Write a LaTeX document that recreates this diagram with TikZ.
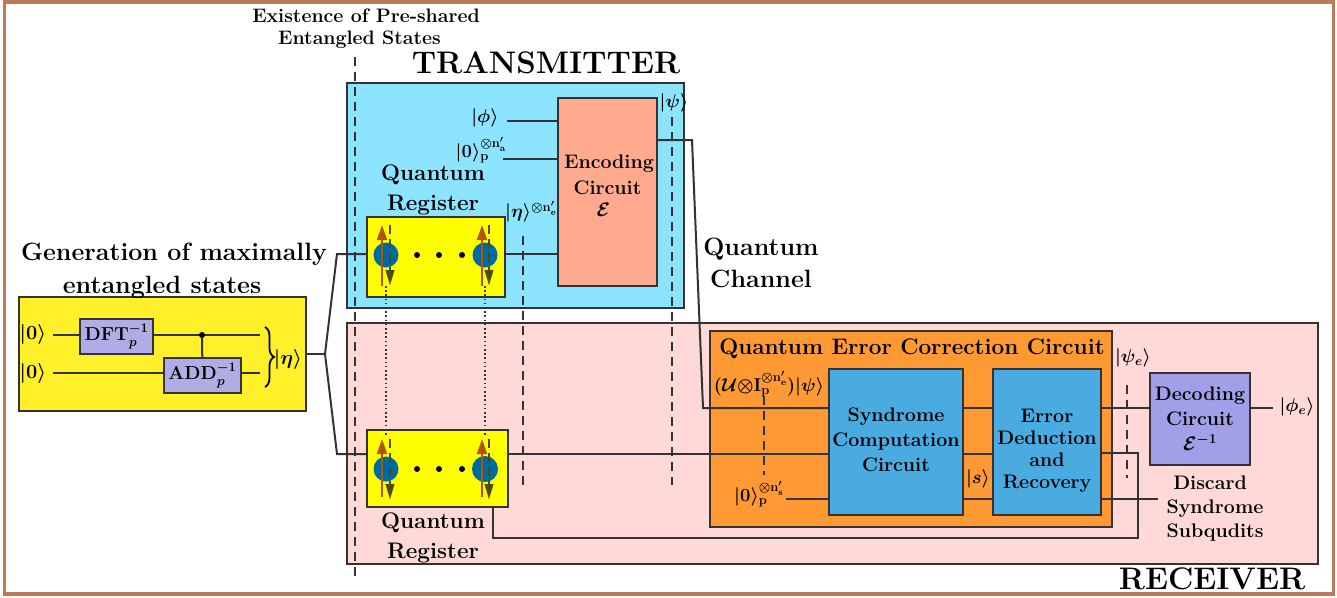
\documentclass[tikz,border=0pt]{standalone}
\usepackage{fix-cm}
\usepackage{amsmath}
\usepackage{amssymb}
\usetikzlibrary{arrows.meta, decorations.pathreplacing}
\definecolor{framebrown}{HTML}{BC7A56}
\definecolor{wirecol}{HTML}{333333}
\definecolor{txblue}{HTML}{8CE4FF}
\definecolor{rxpink}{HTML}{FFD8D8}
\definecolor{genyellow}{HTML}{FFF02A}
\definecolor{regyellow}{HTML}{FFFF00}
\definecolor{gatepurple}{HTML}{B0ADE6}
\definecolor{encsalmon}{HTML}{FFA98F}
\definecolor{qecorange}{HTML}{FF9933}
\definecolor{circblue}{HTML}{4AABE0}
\definecolor{decpurple}{HTML}{A09FE8}
\definecolor{spinblue}{HTML}{006AA0}
\definecolor{spinup}{HTML}{B35500}
\definecolor{spindown}{HTML}{4D4D10}
\tikzstyle{block} = [rectangle, inner sep=0pt, draw=wirecol, line width=2pt, align=center]
\tikzstyle{wire} = [draw=wirecol, line width=2pt]
\tikzstyle{dashline} = [draw=wirecol, line width=1.8pt, dash pattern=on 9pt off 6pt]
\tikzstyle{dotline} = [draw=wirecol, line width=1.6pt, dash pattern=on 1.6pt off 2.6pt]
\tikzstyle{bigtext} = [inner sep=0pt, align=center, font=\fontsize{31.2}{33}\selectfont\bfseries\boldmath]
\tikzstyle{midtext} = [inner sep=0pt, align=center, font=\fontsize{25}{32.5}\selectfont\bfseries\boldmath]
\tikzstyle{labeltext} = [inner sep=0pt, align=center, font=\fontsize{18.5}{30}\selectfont\bfseries\boldmath]
\tikzstyle{gatetext} = [font=\fontsize{18.8}{24}\selectfont\bfseries\boldmath]
\tikzstyle{boxtext} = [font=\fontsize{19.6}{25}\selectfont\bfseries\boldmath]
\tikzstyle{subtext} = [inner sep=0pt, align=center, font=\fontsize{22.5}{30}\selectfont\bfseries]
\tikzstyle{smalltext} = [inner sep=0pt, align=center, font=\fontsize{19.5}{22}\selectfont\bfseries]
\tikzstyle{spin} = [circle, inner sep=0pt, minimum size=25pt, fill=spinblue]
\tikzstyle{spinarrow} = [draw=spinup, line width=2pt, -{Triangle[length=15pt,width=10pt]}]
\tikzstyle{spindash} = [draw=spindown, line width=2pt, dash pattern=on 9pt off 5pt]
\tikzstyle{spinhead} = [-{Triangle[length=15pt,width=9pt]}, draw=spindown, line width=.1pt]
\tikzstyle{dotnode} = [circle, inner sep=0pt, minimum size=6pt, fill=black]
\begin{document}
\begin{tikzpicture}[x=1pt, y=-1pt]
        \useasboundingbox (0,0) rectangle (1337,597);
        \node (frame) [rectangle, draw=framebrown, line width=3.5pt, minimum width=1329pt, minimum height=592pt, inner sep=0pt] at (669,298) {};

        % receiver and transmitter
        \node (rx) [block, fill=rxpink, minimum width=971pt, minimum height=241pt] at (832.5,443.5) {};
        \node (tx) [block, fill=txblue, minimum width=337pt, minimum height=225pt] at (515.5,195.5) {};
        \node (txlabel) [bigtext] at (546,63) {TRANSMITTER};
        \node (rxlabel) [bigtext] at (1212,579) {RECEIVER};

        % generation of entangled states
        \node (gen) [block, fill=genyellow, minimum width=287pt, minimum height=114pt] at (162.5,354) {};
        \node (gentext) [midtext] at (174,271) {Generation of maximally\\entangled states\hspace*{24pt}};
        \coordinate (w1in) at (53,335);
        \coordinate (w2in) at (53,373);
        \coordinate (w1out) at (260,335);
        \coordinate (w2out) at (260,373);
        \node (zero1) [labeltext, font=\fontsize{20}{24}\selectfont\bfseries\boldmath] at (33,334) {$|\mathbf{0}\rangle$};
        \node (zero2) [labeltext, font=\fontsize{20}{24}\selectfont\bfseries\boldmath] at (33,373) {$|\mathbf{0}\rangle$};
        \draw [wire] (w1in) -- (w1out);
        \draw [wire] (w2in) -- (w2out);
        \node (dft) [block, gatetext, fill=gatepurple, minimum width=73pt, minimum height=35pt] at (116.5,336.5) {$\mathbf{DFT}_{p}^{-1}$};
        \node (add) [block, gatetext, fill=gatepurple, minimum width=77pt, minimum height=35pt] at (202.5,375.5) {$\mathbf{ADD}_{p}^{-1}$};
        \node (ctrl) [dotnode] at (202,335) {};
        \draw [wire] (ctrl) -- (add);
        \coordinate (bracetop) at (265,327);
        \coordinate (bracebot) at (265,387);
        \draw [draw=black, line width=1.8pt, decorate, decoration={brace, amplitude=9pt}] (bracetop) -- (bracebot);
        \node (eta) [labeltext, font=\fontsize{20}{24}\selectfont\bfseries\boldmath] at (288,359) {$|\eta\rangle$};
        \coordinate (split) at (325,354);
        \coordinate (bendtop) at (337,254);
        \coordinate (bendbot) at (337,454);

        % transmitter
        \node (qrtop) [block, fill=regyellow, minimum width=138pt, minimum height=80pt] at (436,257) {};
        \node (enc) [block, boxtext, fill=encsalmon, minimum width=99pt, minimum height=188pt] at (607.5,192) {\mbox{}\\[-27pt]\hspace*{3pt}Encoding\\[1pt]Circuit\hspace*{6pt}\\[-3pt]$\mathcal{E}$\hspace*{8pt}};
        \node (qrtoptext) [subtext] at (433,190) {Quantum\\Register};
        \node (phi) [labeltext] at (485,118) {$|\phi\rangle$};
        \node (zeroa) [labeltext] at (481,150) {$|\mathbf{0}\rangle_{\mathbf{p}}^{\otimes\mathbf{n}'_{\mathbf{a}}}$};
        \node (etae) [labeltext] at (531,212) {$|\eta\rangle^{\otimes\mathbf{n}'_{\mathbf{e}}}$};
        \node (psi) [labeltext] at (674,103) {$|\psi\rangle$};
        \coordinate (phiout) at (507,121);
        \coordinate (zeroaout) at (503,159);
        \coordinate (encout) at (692,140);
        \coordinate (chanbend) at (703,408);
        \draw [wire] (phiout) -- (phiout -| enc.west);
        \draw [wire] (zeroaout) -- (zeroaout -| enc.west);

        % receiver
        \node (qrbot) [block, fill=regyellow, minimum width=141pt, minimum height=77pt] at (437.5,468.5) {};
        \node (qrbottext) [subtext] at (433,538) {Quantum\\Register};
        \node (qec) [block, fill=qecorange, minimum width=402pt, minimum height=196pt] at (911,429) {};
        \node (qectext) [subtext] at (912,349) {Quantum Error Correction Circuit};
        \node (syn) [block, boxtext, fill=circblue, minimum width=134pt, minimum height=146pt] at (896,442) {Syndrome\\Computation\\Circuit\\[-21pt]\mbox{}};
        \node (err) [block, fill=circblue, minimum width=108pt, minimum height=146pt, font=\fontsize{19.6}{22}\selectfont\bfseries] at (1047,442) {\mbox{}\\[8pt]Error\hspace*{9pt}\\Deduction\\and\hspace*{14pt}\\Recovery};
        \node (dec) [block, boxtext, fill=decpurple, minimum width=100pt, minimum height=92pt] at (1200,419) {Decoding\\Circuit\\$\mathcal{E}^{-1}$};
        \node (unitary) [labeltext] at (769,384) {$(\boldsymbol{\mathcal{U}}{\otimes}\mathbf{I}_{\mathbf{p}}^{\otimes\mathbf{n}'_{\mathbf{e}}})|\psi\rangle$};
        \node (zeros) [labeltext] at (759,494) {$|\mathbf{0}\rangle_{\mathbf{p}}^{\otimes\mathbf{n}'_{\mathbf{s}}}$};
        \node (synd) [labeltext] at (978,479) {$|s\rangle$};
        \node (psie) [labeltext] at (1133,358) {$|\psi_e\rangle$};
        \node (phie) [labeltext] at (1297,407) {$|\phi_e\rangle$};
        \node (discard) [smalltext, font=\fontsize{19.6}{24}\selectfont\bfseries] at (1215,509) {Discard\hspace*{10pt}\\Syndrome\\Subqudits};
        \node (channel) [midtext] at (761,263) {Quantum\\Channel};
        \node (sharedtext) [smalltext] at (366,29) {Existence of Pre-shared\\Entangled States\hspace*{13pt}};
        \coordinate (zerosout) at (786,499);
        \coordinate (phieout) at (1273,408);
        \coordinate (discardout) at (1158,499);
        \coordinate (loopdown) at (493,538);
        \coordinate (loopright) at (1138,538);
        \coordinate (loopup) at (1138,453);

        % wires
        \draw [wire] (gen.east |- split) -- (split);
        \draw [wire] (split) -- (bendtop) -- (bendtop -| qrtop.west);
        \draw [wire] (split) -- (bendbot) -- (bendbot -| qrbot.west);
        \draw [wire] (qrtop.east |- bendtop) -- (bendtop -| enc.west);
        \draw [wire] (qrbot.east |- bendbot) -- (bendbot -| syn.west);
        \draw [wire] (encout -| enc.east) -- (encout) -- (chanbend) -- (chanbend -| syn.west);
        \draw [wire] (zerosout) -- (zerosout -| syn.west);
        \draw [wire] (chanbend -| syn.east) -- (chanbend -| err.west);
        \draw [wire] (bendbot -| syn.east) -- (bendbot -| err.west);
        \draw [wire] (zerosout -| syn.east) -- (zerosout -| err.west);
        \draw [wire] (chanbend -| err.east) -- (chanbend -| dec.west);
        \draw [wire] (phieout -| dec.east) -- (phieout);
        \draw [wire] (discardout -| err.east) -- (discardout);
        \draw [wire] (loopdown |- qrbot.south) -- (loopdown) -- (loopright) -- (loopup) -- (loopup -| err.east);

        % spins
        \node (s1) [spin] at (386,255) {};
        \node (s2) [spin] at (485,255) {};
        \node (s3) [spin] at (386,469) {};
        \node (s4) [spin, minimum size=26pt] at (485,469) {};
        \node (d1) [dotnode] at (417,255) {};
        \node (d2) [dotnode] at (439,255) {};
        \node (d3) [dotnode] at (462,255) {};
        \node (d4) [dotnode] at (417,469) {};
        \node (d5) [dotnode] at (439,469) {};
        \node (d6) [dotnode] at (462,469) {};
        \draw [spinarrow] ([xshift=-4pt,yshift=-31pt]s1.center) -- ([xshift=-4pt,yshift=30pt]s1.center);
        \draw [spinarrow] ([xshift=-3pt,yshift=-31pt]s2.center) -- ([xshift=-3pt,yshift=30pt]s2.center);
        \draw [spinarrow] ([xshift=-4pt,yshift=-28pt]s3.center) -- ([xshift=-4pt,yshift=30pt]s3.center);
        \draw [spinarrow] ([xshift=-3pt,yshift=-28pt]s4.center) -- ([xshift=-3pt,yshift=30pt]s4.center);
        \draw [spindash] ([xshift=4pt,yshift=30pt]s1.center) -- ([xshift=4pt,yshift=-15pt]s1.center);
        \draw [spindash] ([xshift=4pt,yshift=30pt]s2.center) -- ([xshift=4pt,yshift=-15pt]s2.center);
        \draw [spindash] ([xshift=4pt,yshift=30pt]s3.center) -- ([xshift=4pt,yshift=-15pt]s3.center);
        \draw [spindash] ([xshift=4pt,yshift=30pt]s4.center) -- ([xshift=4pt,yshift=-15pt]s4.center);
        \draw [spinhead] ([xshift=4pt,yshift=-15pt]s1.center) -- ([xshift=4pt,yshift=-30pt]s1.center);
        \draw [spinhead] ([xshift=4pt,yshift=-15pt]s2.center) -- ([xshift=4pt,yshift=-30pt]s2.center);
        \draw [spinhead] ([xshift=4pt,yshift=-15pt]s3.center) -- ([xshift=4pt,yshift=-30pt]s3.center);
        \draw [spinhead] ([xshift=4pt,yshift=-15pt]s4.center) -- ([xshift=4pt,yshift=-30pt]s4.center);

        % dashed and dotted guides
        \coordinate (sharedtop) at (355,57);
        \coordinate (sharedbot) at (355,577);
        \coordinate (etatop) at (523,236);
        \coordinate (etabot) at (523,485);
        \coordinate (psitop) at (672,117);
        \coordinate (psibot) at (672,485);
        \coordinate (unitop) at (764,396);
        \coordinate (unibot) at (764,475);
        \coordinate (psietop) at (1127,385);
        \coordinate (psiebot) at (1127,478);
        \draw [dashline] (sharedtop) -- (sharedbot);
        \draw [dashline] (etatop) -- (etabot);
        \draw [dashline] (psitop) -- (psibot);
        \draw [dashline] (unitop) -- (unibot);
        \draw [dashline] (psietop) -- (psiebot);
        \draw [dotline] ([yshift=-31pt]s1.center) -- ([yshift=32pt]s3.center);
        \draw [dotline] ([yshift=-31pt]s2.center) -- ([yshift=32pt]s4.center);
    \end{tikzpicture}
\end{document}
